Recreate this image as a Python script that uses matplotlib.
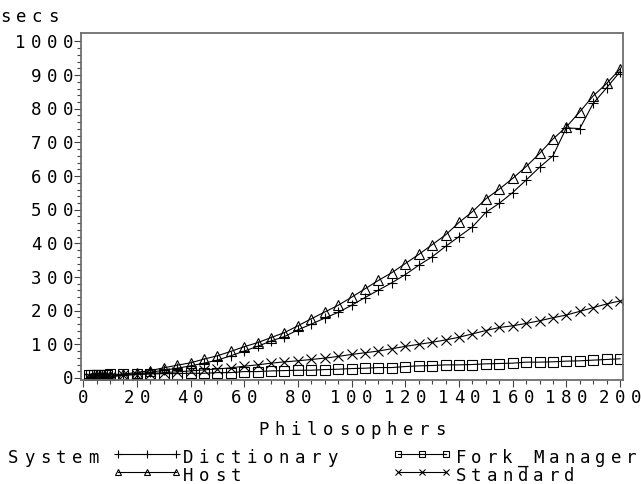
import numpy as np
import matplotlib
matplotlib.use("Agg")
import matplotlib.pyplot as plt
from matplotlib.lines import Line2D
from matplotlib.transforms import IdentityTransform, offset_copy

# number of philosophers at each run
philosophers = [2, 3, 4, 5, 6, 7, 8, 9, 10,
                15, 20, 25, 30, 35, 40, 45, 50, 55, 60,
                65, 70, 75, 80, 85, 90, 95, 100, 105, 110,
                115, 120, 125, 130, 135, 140, 145, 150, 155, 160,
                165, 170, 175, 180, 185, 190, 195, 200]

# run time in seconds per system
dictionary = [1, 1, 1, 2, 2, 2, 3, 3, 4,
              9, 12, 17, 23, 29, 36, 44, 53, 66, 80,
              94, 110, 123, 143, 160, 178, 195, 216, 239, 261,
              283, 307, 335, 360, 391, 420, 449, 492, 519, 551,
              588, 626, 660, 743, 741, 816, 862, 910]
host = [1, 1, 2, 2, 2, 3, 3, 4, 5,
        12, 16, 22, 30, 38, 45, 56, 66, 79, 93,
        105, 120, 135, 155, 176, 196, 216, 240, 265, 290,
        313, 340, 367, 396, 425, 462, 494, 532, 561, 593,
        628, 667, 710, 746, 791, 838, 875, 918]
fork_manager = [8, 8, 9, 9, 9, 10, 10, 10, 11,
                11, 12, 12, 13, 13, 14, 14, 16, 16, 19,
                19, 21, 22, 23, 23, 25, 26, 28, 29, 31,
                31, 34, 36, 37, 39, 39, 40, 42, 43, 44,
                47, 47, 48, 50, 51, 53, 55, 57]
standard = [1, 1, 1, 2, 2, 2, 3, 3, 4,
            8, 10, 13, 16, 18, 21, 24, 27, 30, 35,
            39, 44, 48, 51, 55, 59, 64, 70, 75, 80,
            87, 94, 100, 106, 113, 121, 131, 141, 150, 155,
            162, 170, 179, 187, 198, 209, 220, 229]

x_ticks = list(range(0, 201, 20))
y_ticks = list(range(0, 1001, 100))

W, H = 641, 484
FONT = dict(family="DejaVu Sans Mono", size=12.5, color="black")
PIX = IdentityTransform()

fig = plt.figure(figsize=(W / 100, H / 100), dpi=100)
ax = fig.add_axes([81 / W, 1 - 380 / H, (623 - 81) / W, (380 - 33) / H])


def spaced(s, x, y, ha="left", transform=PIX, dx=0, dy=0, pitch=16):
    """Write s one glyph at a time on a fixed pitch, anchored at (x, y)
    in transform coords and shifted (dx, dy) pixels; y is the baseline."""
    n = len(s)
    if ha == "left":
        c0 = 5
    elif ha == "right":
        c0 = -5 - (n - 1) * pitch
    else:
        c0 = -(n - 1) * pitch / 2
    for i, ch in enumerate(s):
        if ch == " ":
            continue
        tr = offset_copy(transform, fig=fig, x=dx + c0 + i * pitch, y=dy,
                         units="dots")
        fig.text(x, y, ch, transform=tr, ha="center", va="baseline", **FONT)


series = [
    (dictionary, "+", 7.5),
    (host, "^", 7.5),
    (fork_manager, "s", 6.5),
    (standard, "x", 7.0),
]
for vals, mk, ms in series:
    ax.plot(philosophers, vals, color="black", lw=0.8, marker=mk, ms=ms,
            mfc="none", mec="black", mew=0.8)

ax.set_xlim(-0.8, 201.1)
ax.set_ylim(-6, 1025)
ax.set_xticks(x_ticks)
ax.set_xticks(np.arange(0, 201, 5), minor=True)
ax.set_yticks(y_ticks)
ax.set_yticks(np.arange(0, 1001, 20), minor=True)
ax.set_xticklabels([])
ax.set_yticklabels([])
ax.tick_params(which="major", direction="out", length=5, width=0.8, color="#444444")
ax.tick_params(which="minor", direction="out", length=3, width=0.8, color="#444444")
for sp in ax.spines.values():
    sp.set_color("#6e6e6e")
    sp.set_linewidth(1.3)

# tick labels: x below the axis, y to the left of the spine
for t in x_ticks:
    spaced(str(t), t, 0, ha="center", transform=ax.get_xaxis_transform(), dy=-23)
for t in y_ticks:
    spaced(str(t), 0, t, ha="right", transform=ax.get_yaxis_transform(),
           dx=-8, dy=-6.5)

spaced("secs", 0, H - 22)
spaced("Philosophers", 352, H - 435, ha="center")

# legend
spaced("System", 8, H - 463)
spaced("Dictionary", 183, H - 463)
spaced("Host", 183, H - 481)
spaced("Fork_Manager", 456, H - 463, pitch=15.5)
spaced("Standard", 456, H - 481, pitch=15.5)

legend_rows = [
    ((118, 176), 454, "+", 6.0),
    ((118, 176), 472, "^", 5.0),
    ((398, 446), 454, "s", 4.5),
    ((398, 446), 472, "x", 5.0),
]
for (x0, x1), yy, mk, ms in legend_rows:
    xs = [x0, (x0 + x1) / 2, x1]
    fig.add_artist(Line2D(xs, [H - yy] * 3, transform=PIX,
                          color="black", lw=0.8, marker=mk, ms=ms,
                          mfc="none", mec="black", mew=0.8))

fig.savefig("out.png", dpi=100)
